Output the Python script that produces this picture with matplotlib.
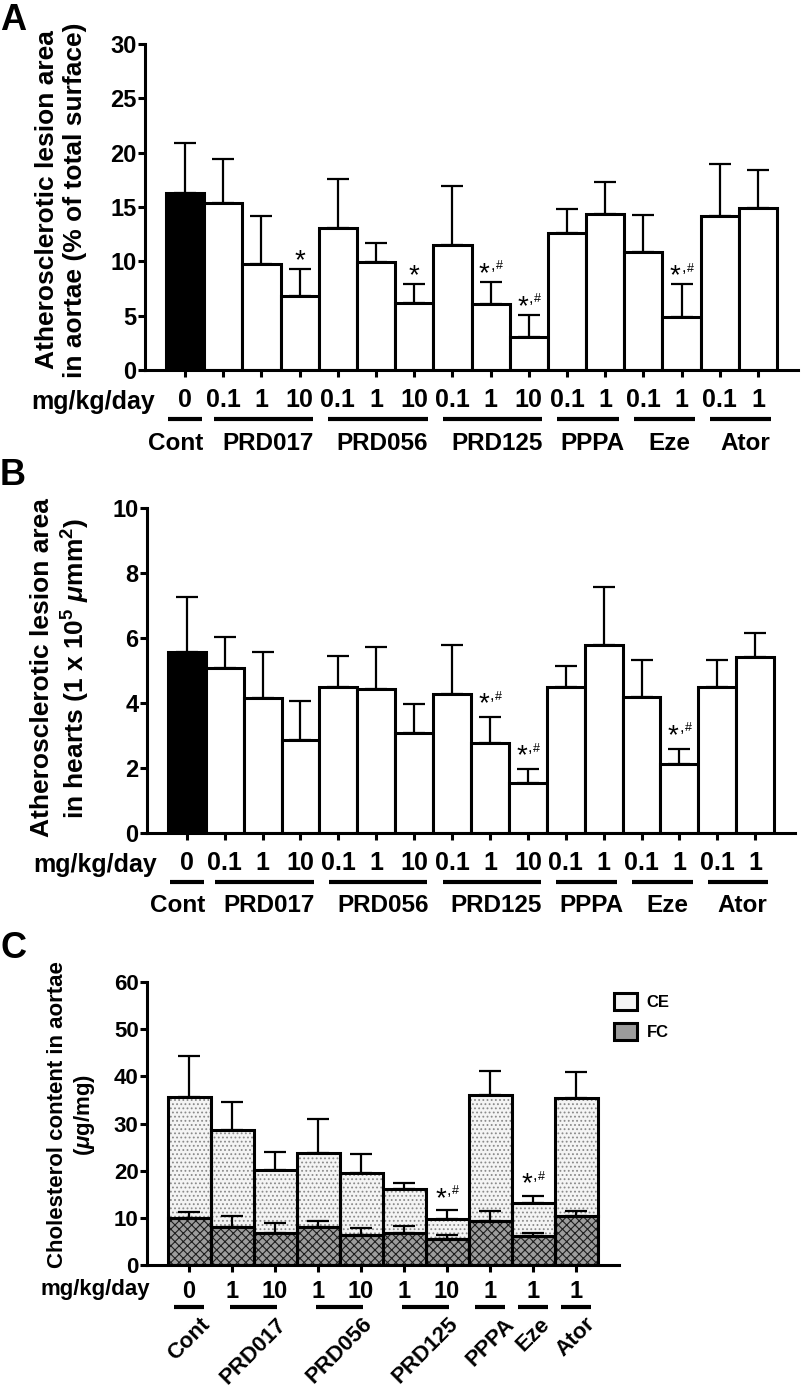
import matplotlib
matplotlib.use('Agg')
import matplotlib.pyplot as plt
from matplotlib.patches import Patch
import numpy as np

# groups and doses (A and B share the same layout)
groups = ['Cont', 'PRD017', 'PRD056', 'PRD125', 'PPPA', 'Eze', 'Ator']
doses_ab = ['0', '0.1', '1', '10', '0.1', '1', '10', '0.1', '1', '10', '0.1', '1', '0.1', '1', '0.1', '1']
group_ab = [0, 1, 1, 1, 2, 2, 2, 3, 3, 3, 4, 4, 5, 5, 6, 6]

# A: lesion area in aortae (% of total surface), mean and SEM
aortae_mean = [16.3, 15.4, 9.8, 6.8, 13.1, 9.9, 6.2, 11.5, 6.1, 3.0, 12.6, 14.4, 10.9, 4.9, 14.2, 14.9]
aortae_sem = [4.6, 4.0, 4.4, 2.5, 4.5, 1.8, 1.7, 5.4, 2.0, 2.1, 2.2, 2.9, 3.4, 3.0, 4.8, 3.5]
aortae_sig = ['', '', '', '*', '', '', '*', '', '*#', '*#', '', '', '', '*#', '', '']

# B: lesion area in hearts (1 x 10^5 um^2)
hearts_mean = [5.57, 5.07, 4.15, 2.86, 4.48, 4.42, 3.07, 4.29, 2.76, 1.55, 4.48, 5.78, 4.18, 2.13, 4.50, 5.42]
hearts_sem = [1.70, 0.97, 1.42, 1.19, 0.97, 1.31, 0.90, 1.49, 0.81, 0.42, 0.66, 1.79, 1.14, 0.46, 0.82, 0.73]
hearts_sig = ['', '', '', '', '', '', '', '', '*#', '*#', '', '', '', '*#', '', '']

# C: cholesterol content in aortae (ug/mg), FC at the bottom, CE stacked on top
doses_c = ['0', '1', '10', '1', '10', '1', '10', '1', '1', '1']
group_c = [0, 1, 1, 2, 2, 3, 3, 4, 5, 6]
fc_mean = [9.9, 8.1, 6.8, 8.1, 6.4, 6.7, 5.5, 9.3, 6.1, 10.4]
fc_sem = [1.4, 2.2, 2.0, 1.3, 1.5, 1.6, 0.9, 2.1, 0.6, 1.1]
ce_mean = [25.7, 20.5, 13.3, 15.6, 13.1, 9.4, 4.2, 26.7, 7.0, 25.0]
ce_sem = [8.7, 5.9, 3.9, 7.2, 4.0, 1.3, 1.9, 5.1, 1.6, 5.5]
chol_sig = ['', '', '', '', '', '', '*#', '', '*#', '']

plt.rcParams['font.family'] = ['Liberation Sans', 'DejaVu Sans']
plt.rcParams['font.weight'] = 'bold'
plt.rcParams['mathtext.fontset'] = 'custom'
plt.rcParams['mathtext.rm'] = 'Liberation Sans:bold'
plt.rcParams['mathtext.bf'] = 'Liberation Sans:bold'
plt.rcParams['mathtext.it'] = 'Liberation Sans:italic:bold'
plt.rcParams['mathtext.default'] = 'bf'
plt.rcParams['hatch.linewidth'] = 0.8
plt.rcParams['axes.linewidth'] = 2.2

W, H = 802.0, 1387.0
fig = plt.figure(figsize=(W / 100, H / 100), dpi=100)


def box(x0, y0, x1, y1):
    # pixel box -> figure fraction
    return [x0 / W, 1 - y1 / H, (x1 - x0) / W, (y1 - y0) / H]


def style(ax, ticksize):
    ax.spines['top'].set_visible(False)
    ax.spines['right'].set_visible(False)
    ax.tick_params(axis='both', direction='out', length=5, width=2.2)
    ax.tick_params(axis='y', labelsize=ticksize, pad=1)


def mark(ax, x, top, kind, off):
    # significance marks above the error bar
    if kind == '':
        return
    if kind == '*':
        ax.annotate('*', (x, top), xytext=(0, off - 11), textcoords='offset points',
                    ha='center', va='baseline', fontsize=20, fontweight='normal')
    else:
        ax.annotate('*', (x, top), xytext=(-4.5, off - 11), textcoords='offset points',
                    ha='center', va='baseline', fontsize=20, fontweight='normal')
        ax.annotate(',', (x, top), xytext=(1.5, off - 3), textcoords='offset points',
                    ha='center', va='baseline', fontsize=12, fontweight='normal')
        ax.annotate('#', (x, top), xytext=(6.3, off - 2.5), textcoords='offset points',
                    ha='center', va='baseline', fontsize=9, fontweight='normal')


def group_lines(ax, members, y_line, y_name, multi_pad, single_pad, shifts, size, rotate=False):
    tr = ax.get_xaxis_transform()
    for g, name in enumerate(groups):
        idx = [i for i, m in enumerate(members) if m == g]
        if len(idx) == 1:
            a, b = idx[0] - single_pad[0], idx[0] + single_pad[1]
            xn = idx[0] + shifts[0]
        else:
            a, b = idx[0] - multi_pad[0], idx[-1] + multi_pad[1]
            xn = (a + b) / 2 + shifts[1]
        ax.plot([a, b], [y_line, y_line], color='black', lw=3, transform=tr, clip_on=False,
                solid_capstyle='butt')
        if rotate:
            ax.text(xn, y_name, name, transform=tr, ha='center', va='top',
                    rotation=45, fontsize=size)
        else:
            ax.text(xn, y_name, name, transform=tr, ha='center', va='center',
                    fontsize=size)


def panel_ab(ax, means, sems, sig, ymax, ystep, off):
    x = np.arange(len(means))
    colors = ['black'] + ['white'] * (len(means) - 1)
    ax.bar(x, means, width=1.0, color=colors, edgecolor='black', linewidth=2.2, zorder=2)
    ax.errorbar(x, means, yerr=[np.zeros(len(x)), sems], fmt='none', ecolor='black',
                elinewidth=1.6, capsize=8, capthick=1.6, zorder=3)
    for i in range(len(x)):
        mark(ax, x[i], means[i] + sems[i], sig[i], off)
    ax.set_ylim(0, ymax)
    ax.set_yticks(np.arange(0, ymax + 0.01, ystep))
    ax.set_xlim(-1.05, 16.05)
    ax.set_xticks(x)
    ax.set_xticklabels(doses_ab, fontsize=18)
    ax.tick_params(axis='x', pad=8)
    style(ax, 17)
    ax.text(-0.78, -0.098, 'mg/kg/day', transform=ax.get_xaxis_transform(), ha='right',
            va='center', fontsize=18)
    group_lines(ax, group_ab, -0.15, -0.224, (0.25, 0.35), (0.45, 0.45), (-0.25, 0.12), 17.5)


# ---- panel A
ax1 = fig.add_axes(box(145, 44, 798, 370))
panel_ab(ax1, aortae_mean, aortae_sem, aortae_sig, 30, 5, 11.5)
fig.text(61 / W, 1 - 200 / H, 'Atherosclerotic lesion area\nin aortae (% of total surface)',
         rotation=90, ha='center', va='center', fontsize=19, linespacing=1.2)
fig.text(0.0, 1 - 30 / H, 'A', fontsize=26, va='baseline')

# ---- panel B
ax2 = fig.add_axes(box(147, 508, 795, 833))
panel_ab(ax2, hearts_mean, hearts_sem, hearts_sig, 10, 2, 15)
fig.text(61 / W, 1 - 668 / H,
         'Atherosclerotic lesion area\nin hearts (1 x 10$^{5}$ $\\mathit{\\mu}$mm$^{2}$)',
         rotation=90, ha='center', va='center', fontsize=19, linespacing=1.25)
fig.text(0.0, 1 - 485 / H, 'B', fontsize=26, va='baseline')

# ---- panel C
ax3 = fig.add_axes(box(147, 982, 619, 1265))
xc = np.arange(len(ce_mean))
tot = np.array(fc_mean) + np.array(ce_mean)
ce_face = dict(color='#f4f4f4', edgecolor='#8a8a8a', hatch='....', linewidth=0)
fc_face = dict(color='#9c9c9c', edgecolor='#1e1e1e', hatch='xxxx', linewidth=0)
ax3.bar(xc, fc_mean, width=1.0, zorder=1, **fc_face)
ax3.bar(xc, ce_mean, bottom=fc_mean, width=1.0, zorder=1, **ce_face)
ax3.bar(xc, fc_mean, width=1.0, fill=False, edgecolor='black', linewidth=2.2, zorder=2)
ax3.bar(xc, ce_mean, bottom=fc_mean, width=1.0, fill=False, edgecolor='black', linewidth=2.2, zorder=2)
ax3.errorbar(xc, tot, yerr=[np.zeros(len(xc)), ce_sem], fmt='none', ecolor='black',
             elinewidth=1.6, capsize=8, capthick=1.6, zorder=3)
ax3.errorbar(xc, fc_mean, yerr=[np.zeros(len(xc)), fc_sem], fmt='none', ecolor='black',
             elinewidth=1.6, capsize=8, capthick=1.6, zorder=3)
for i in range(len(xc)):
    mark(ax3, xc[i], tot[i] + ce_sem[i], chol_sig[i], 14)
ax3.set_ylim(0, 60)
ax3.set_yticks(np.arange(0, 61, 10))
ax3.set_xlim(-0.98, 10.0)
ax3.set_xticks(xc)
ax3.set_xticklabels(doses_c, fontsize=17)
ax3.tick_params(axis='x', pad=6)
style(ax3, 16)
ax3.text(-0.9, -0.088, 'mg/kg/day', transform=ax3.get_xaxis_transform(), ha='right',
         va='center', fontsize=16)
group_lines(ax3, group_c, -0.148, -0.172, (0.05, 0.05), (0.35, 0.35), (0.0, 0.0), 16,
            rotate=True)
fig.text(72 / W, 1 - 1115 / H, 'Cholesterol content in aortae\n($\\mathit{\\mu}$g/mg)',
         rotation=90, ha='center', va='center', fontsize=16, linespacing=1.2)
fig.text(0.0, 1 - 958 / H, 'C', fontsize=26, va='baseline')

outline = dict(fill=False, edgecolor='black', linewidth=2.2)
handles = [(Patch(**ce_face), Patch(**outline)), (Patch(**fc_face), Patch(**outline))]
ax3.legend(handles, ['CE', 'FC'], loc='upper left', bbox_to_anchor=(614 / W, 1 - 993 / H),
           bbox_transform=fig.transFigure, frameon=False, fontsize=12, borderpad=0,
           borderaxespad=0, handlelength=1.35, handleheight=1.15, handletextpad=0.6,
           labelspacing=0.8)

plt.savefig('out.png', dpi=100)
